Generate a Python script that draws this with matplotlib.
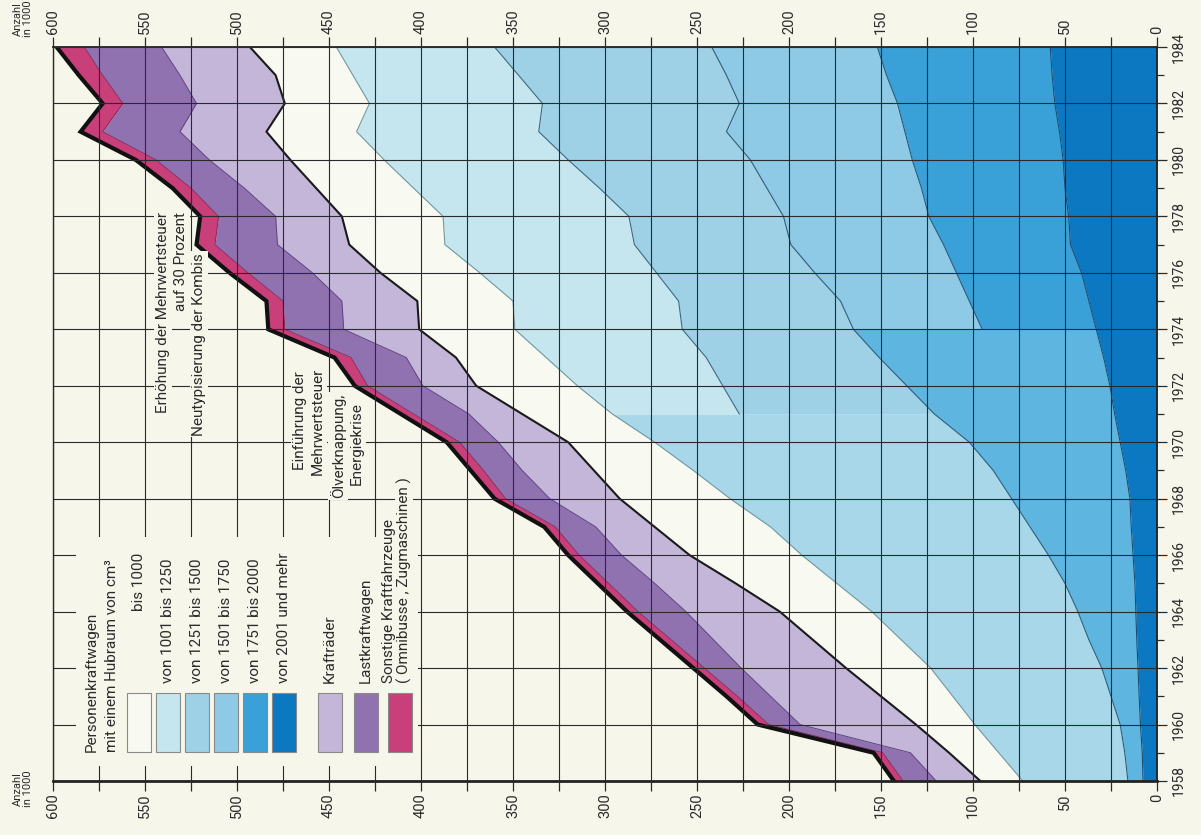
"""plot.py — Neuzulassungen von Kraftfahrzeugen 1958–1984 (gedrehte Flächengrafik)."""
import matplotlib
matplotlib.use("Agg")
import matplotlib.pyplot as plt
import numpy as np
from matplotlib.patches import Rectangle
from matplotlib.ticker import FuncFormatter, MultipleLocator

nan = np.nan
years = np.arange(1958, 1985)

# ── Werte in 1000 ─────────────────────────────────────────────────────
# Pkw nach Hubraum; NaN = Klasse in diesem Jahr noch nicht getrennt ausgewiesen
pkw_2001_mehr = np.array([7.6, 8, 9, 9.7, 10.3, 11, 11.5, 12, 13, 14, 14.7, 17, 20, 23,
                          25.6, 29, 33, 37, 41, 47, 48, 50, 51, 53, 55.5, 57, 58])
pkw_1751_2000 = np.array([nan] * 16 + [62, 65, 68, 69, 76, 78, 82, 84, 85.5, 90, 94])
# bis 1973 zusammen mit 1751–2000 ausgewiesen
pkw_1501_1750 = np.array([8.2, 9.5, 11, 15.3, 19.7, 26, 31.5, 38, 46, 55, 64.3, 72, 82, 98,
                          110.4, 122, 70, 70, 77, 83, 79, 84, 88, 97, 86, 87, 90])
# bis 1970 zusammen mit 1001–1250 ausgewiesen
pkw_1251_1500 = np.array([57.2, 68.5, 79, 86, 93, 102, 112, 124, 134, 141, 153, 163, 171,
                          106, 100, 94, 93, 88, 86, 85, 84, 91, 99, 102, 107, 113, 118])
pkw_1001_1250 = np.array([nan] * 13 + [69, 79, 87, 91, 90, 96, 103, 101, 101, 100, 99, 94, 90, 86])
pkw_bis_1000 = np.array([23, 27, 32, 39, 46, 48, 50, 55, 61, 63, 60, 54, 47, 49,
                         55, 49, 52, 52, 54, 52, 55, 53, 51, 49, 46, 42, 47])
kraftraeder = np.array([24, 21, 63, 60, 57, 54, 51, 44, 37, 32, 38, 39, 38, 29,
                        29, 27, 41, 41, 37, 39, 36, 39, 44, 47, 48, 52, 48])
lastkraftwagen = np.array([18, 15, 17, 18, 20, 23, 26, 25, 23, 22, 24, 21, 21, 30,
                           30, 30, 32, 32, 35, 34, 31, 29, 29, 42, 40, 42, 42])
sonstige = np.array([5, 5, 6, 6, 6, 6, 6, 6, 6, 6, 6, 7, 7, 7,
                     7, 9, 9, 9, 10, 10, 10, 10, 11, 12, 11, 13, 15])

# ── Farben ────────────────────────────────────────────────────────────
BG = "#f6f6eb"
TXT = "#2b2b2b"
C_2001 = "#0b78c1"
C_1751 = "#39a0d8"
C_1501 = "#8ec9e5"
C_1501_ALT = "#5db5e0"
C_1251 = "#9fd1e6"
C_1251_ALT = "#a7d7e9"
C_1001 = "#c6e6ef"
C_BIS1000 = "#f8f9f1"
C_KRAD = "#c4b6d8"
C_LKW = "#9172b1"
C_SONST = "#c83f7a"

plt.rcParams["font.family"] = ["Roboto", "DejaVu Sans"]

W, H = 1201, 835


def fxy(x, y):
    """Bildpixel -> Figure-Koordinaten."""
    return x / W, 1 - y / H


fig = plt.figure(figsize=(W / 100, H / 100), dpi=100, facecolor=BG)
ax = fig.add_axes([53 / W, 54 / H, 1104 / W, 734 / H])
ax.set_facecolor(BG)

# kumulierte Grenzen
c1 = pkw_2001_mehr
c2 = c1 + np.nan_to_num(pkw_1751_2000)
c3 = c2 + pkw_1501_1750
c4 = c3 + pkw_1251_1500
c5 = c4 + np.nan_to_num(pkw_1001_1250)
c6 = c5 + pkw_bis_1000
c7 = c6 + kraftraeder
c8 = c7 + lastkraftwagen
c9 = c8 + sonstige

split74 = ~np.isnan(pkw_1751_2000)
old74 = years <= years[split74][0]
split71 = ~np.isnan(pkw_1001_1250)
old71 = years <= years[split71][0]

fk = dict(linewidth=0)
ax.fill_betweenx(years, 0, c1, color=C_2001, **fk)
ax.fill_betweenx(years, c1, c3, where=old74, color=C_1501_ALT, **fk)
ax.fill_betweenx(years, c1, c2, where=split74, color=C_1751, **fk)
ax.fill_betweenx(years, c2, c3, where=split74, color=C_1501, **fk)
ax.fill_betweenx(years, c3, c5, where=old71, color=C_1251_ALT, **fk)
ax.fill_betweenx(years, c3, c4, where=split71, color=C_1251, **fk)
ax.fill_betweenx(years, c4, c5, where=split71, color=C_1001, **fk)
ax.fill_betweenx(years, c5, c6, color=C_BIS1000, **fk)
ax.fill_betweenx(years, c6, c7, color=C_KRAD, **fk)
ax.fill_betweenx(years, c7, c8, color=C_LKW, **fk)
ax.fill_betweenx(years, c8, c9, color=C_SONST, **fk)

# Grenzlinien
ax.plot(c1, years, color="#1d4f74", lw=0.8)
ax.plot(c2[split74], years[split74], color="#24587a", lw=0.8)
ax.plot(c3, years, color="#2c5d78", lw=0.8)
ax.plot(c4[split71], years[split71], color="#3a6a80", lw=0.8)
ax.plot(c5, years, color="#6f969e", lw=0.8)
ax.plot(c6, years, color="#1a1a1a", lw=1.5)
ax.plot(c7, years, color="#5e4380", lw=0.7)
ax.plot(c8, years, color="#7a2a5a", lw=0.6)
ax.plot(c9, years, color="#111111", lw=3.0, solid_joinstyle="miter")

# Achsen
ax.set_xlim(600, 0)
ax.set_ylim(1958, 1984)
ax.xaxis.set_major_locator(MultipleLocator(25))
ax.xaxis.set_major_formatter(FuncFormatter(lambda v, p: f"{v:.0f}" if v % 50 == 0 else ""))
ax.yaxis.set_major_locator(MultipleLocator(2))
ax.yaxis.set_minor_locator(MultipleLocator(1))
ax.set_axisbelow(False)
ax.grid(True, which="major", color="#2a2a2a", lw=0.8)

ax.tick_params(axis="x", which="major", bottom=True, top=True, labelbottom=True, labeltop=True,
               direction="out", length=7, width=0.9, color="#2a2a2a", pad=2,
               labelrotation=90, labelsize=10.5, labelcolor=TXT)
ax.tick_params(axis="y", which="both", left=False, labelleft=False, right=True, labelright=True,
               direction="out", color="#2a2a2a", width=0.9)
ax.tick_params(axis="y", which="major", length=7, pad=4, labelrotation=90, labelsize=10, labelcolor=TXT)
ax.tick_params(axis="y", which="minor", length=5)
plt.setp(ax.get_yticklabels(), va="center")

for side, lw in (("bottom", 2.0), ("top", 1.3), ("right", 1.3), ("left", 1.0)):
    ax.spines[side].set_linewidth(lw)
    ax.spines[side].set_color("#222222")

# Freifläche für die Legende (Gitter ausgeblendet)
x0, y0 = fxy(76, 766)
x1, y1 = fxy(418, 537)
fig.add_artist(Rectangle((x0, y0), x1 - x0, y1 - y0, transform=fig.transFigure,
                         facecolor=BG, edgecolor="none", zorder=3))

# Legende
legend_boxes = [
    (127, C_BIS1000), (156, C_1001), (185, C_1251), (214, C_1501), (243, C_1751), (272, C_2001),
    (318, C_KRAD), (354, C_LKW), (388, C_SONST),
]
for bx, col in legend_boxes:
    lx, ly = fxy(bx, 752)
    fig.add_artist(Rectangle((lx, ly), 24 / W, 59 / H, transform=fig.transFigure,
                             facecolor=col, edgecolor="#8a8a8a", lw=0.8, zorder=4))

tk = dict(rotation=90, rotation_mode="anchor", va="center", color=TXT, zorder=5)
bbox = dict(facecolor=BG, edgecolor="none", pad=1.2)

fig.text(*fxy(92, 752), "Personenkraftwagen", ha="left", fontsize=11, **tk)
fig.text(*fxy(112, 752), "mit einem Hubraum von cm³", ha="left", fontsize=11, **tk)
fig.text(*fxy(139, 553), "bis 1000", ha="right", fontsize=11, **tk)
legend_labels = [
    (168, "von 1001 bis 1250"), (197, "von 1251 bis 1500"), (226, "von 1501 bis 1750"),
    (255, "von 1751 bis 2000"), (284, "von 2001 und mehr"), (330, "Krafträder"),
    (366, "Lastkraftwagen"), (389, "Sonstige Kraftfahrzeuge"), (404, "( Omnibusse , Zugmaschinen )"),
]
for lx, s in legend_labels:
    fig.text(*fxy(lx, 683), s, ha="left", fontsize=11, bbox=bbox, **tk)

# Anmerkungen
fig.text(*fxy(163, 212), "Erhöhung der Mehrwertsteuer", ha="right", fontsize=11, bbox=bbox, **tk)
fig.text(*fxy(181, 212), "auf 30 Prozent", ha="right", fontsize=11, bbox=bbox, **tk)
fig.text(*fxy(199, 253), "Neutypisierung der Kombis", ha="right", fontsize=11, bbox=bbox, **tk)
fig.text(*fxy(300, 421), "Einführung der", ha="center", fontsize=11, bbox=bbox, **tk)
fig.text(*fxy(318, 421), "Mehrwertsteuer", ha="center", fontsize=11, bbox=bbox, **tk)
fig.text(*fxy(338, 446), "Ölverknappung,", ha="center", fontsize=11, bbox=bbox, **tk)
fig.text(*fxy(357, 444), "Energiekrise", ha="center", fontsize=11, bbox=bbox, **tk)

# Achsentitel
for ty in (789, 19):
    fig.text(*fxy(23, ty), "Anzahl\nin 1000", ha="center", fontsize=8, linespacing=0.95,
             multialignment="center", **tk)

fig.savefig("out.png", dpi=100, facecolor=BG)
